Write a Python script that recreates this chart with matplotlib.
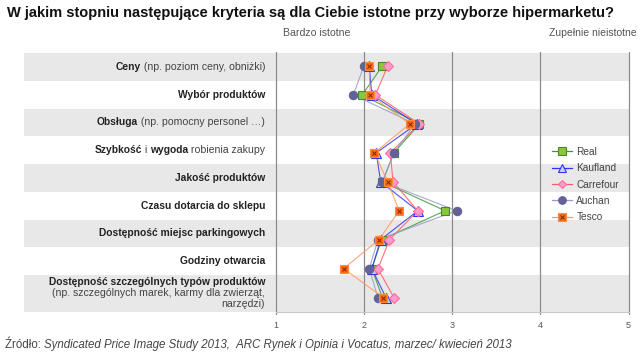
import numpy as np
import matplotlib
matplotlib.use("Agg")
import matplotlib.pyplot as plt
from matplotlib.lines import Line2D

plt.rcParams['font.family'] = ['Liberation Sans', 'DejaVu Sans']

# ---- dane ----
kryteria = [
    [("Ceny", "bold"), (" (np. poziom ceny, obniżki)", "normal")],
    [("Wybór produktów", "bold")],
    [("Obsługa", "bold"), (" (np. pomocny personel …)", "normal")],
    [("Szybkość", "bold"), (" i ", "normal"), ("wygoda", "bold"), (" robienia zakupy", "normal")],
    [("Jakość produktów", "bold")],
    [("Czasu dotarcia do sklepu", "bold")],
    [("Dostępność miejsc parkingowych", "bold")],
    [("Godziny otwarcia", "bold")],
    [("Dostępność szczególnych typów produktów", "bold")],
]
kryteria_dop = "(np. szczególnych marek, karmy dla zwierząt,\nnarzędzi)"

sieci = ["Real", "Kaufland", "Carrefour", "Auchan", "Tesco"]
real      = [2.21, 1.98, 2.63, 2.34, 2.21, 2.92, 2.20, 2.09, 2.21]
kaufland  = [2.06, 2.09, 2.60, 2.14, 2.19, 2.61, 2.19, 2.09, 2.25]
carrefour = [2.27, 2.13, 2.63, 2.30, 2.33, 2.61, 2.29, 2.16, 2.34]
auchan    = [2.00, 1.88, 2.58, 2.34, 2.21, 3.05, 2.16, 2.06, 2.16]
tesco     = [2.06, 2.07, 2.52, 2.12, 2.27, 2.40, 2.17, 1.77, 2.22]
wartosci = [real, kaufland, carrefour, auchan, tesco]
skala = [1, 2, 3, 4, 5]

# styl serii: kolor linii, marker, wypelnienie, obwodka, rozmiar
style = [
    ("#3a9a3a", "s", "#8cc63f", "#4a8a1a", 6),
    ("#3333ee", "^", "#c8d0ff", "#3333ee", 6.5),
    ("#ff5a5a", "D", "#ff9ccb", "#ff6c9c", 5),
    ("#9a9ac8", "o", "#626298", "#626298", 6),
    ("#ff9a5a", "s", "#ff6a10", "#ff8a40", 6),
]

fig = plt.figure(figsize=(6.4, 3.57), dpi=100)
W, H = 640, 357

# os: piksele 24..632 w poziomie, 52..315 w pionie
x1px, x5px = 275.7, 628.5
ppu = (x5px - x1px) / 4
xl = 1 - (x1px - 24) / ppu
xr = 5 + (632 - x5px) / ppu
y0px, dy = 66.0, 28.95
yt = (52 - y0px) / dy
yb = (315 - y0px) / dy
ax = fig.add_axes([24 / W, 1 - 315 / H, (632 - 24) / W, (315 - 52) / H])
ax.set_xlim(xl, xr)
ax.set_ylim(yb, yt)
for s in ax.spines.values():
    s.set_visible(False)
ax.set_yticks([])

# pasy tla
bh = 27.75
for k in range(0, 9, 2):
    top = (53 + bh * k - y0px) / dy
    bot = (53 + bh * (k + 1) - y0px) / dy if k < 8 else (312 - y0px) / dy
    ax.fill_between([xl, 5], top, bot, color="#e8e8e8", lw=0, zorder=0)

# siatka pionowa
for v in skala:
    ax.axvline(v, color="#8c8c8c", lw=0.9, zorder=1)
ax.plot([1, 5], [(312 - y0px) / dy] * 2, color="#c8c8c8", lw=0.8, zorder=1)

ax.set_xticks(skala)
ax.set_xticklabels([str(v) for v in skala], fontsize=6.5, color="#555555")
ax.tick_params(axis="x", length=0, pad=4)

# etykiety kryteriow
xlab = 1 - (x1px - 265) / ppu
fs = {"bold": 7.4, "normal": 7.6}
for k, czesci in enumerate(kryteria):
    yc = (53 + bh * (k + 0.5) - y0px) / dy
    if k == 8:
        yc = (282 - y0px) / dy
    prev = None
    for tekst, waga in reversed(czesci):
        kol = "#222222" if waga == "bold" else "#444444"
        if prev is None:
            prev = ax.text(xlab, yc, tekst, ha="right", va="center",
                           fontsize=fs[waga], fontweight=waga, color=kol)
        else:
            prev = ax.annotate(tekst, xy=(0, 0), xycoords=prev, ha="right",
                               va="bottom", fontsize=fs[waga], fontweight=waga, color=kol)
ax.text(xlab, (288 - y0px) / dy, kryteria_dop, ha="right", va="top",
        fontsize=7.6, color="#444444", linespacing=1.1)

# serie
yy = np.arange(len(kryteria))
uchwyty = []
for nazwa, vals, (lc, mk, fc, ec, ms) in zip(sieci, wartosci, style):
    ax.plot(vals, yy, color=lc, lw=0.8, alpha=0.85, zorder=3)
    ax.plot(vals, yy, ls="none", marker=mk, ms=ms, mfc=fc, mec=ec, mew=0.8, zorder=4)
    h = Line2D([], [], color=lc, lw=0.9, marker=mk, ms=ms - 0.5, mfc=fc, mec=ec, mew=0.8)
    if nazwa == "Tesco":
        ax.plot(vals, yy, ls="none", marker="x", ms=3.5, mec="#7a2a00", mew=0.7, zorder=5)
        h = (h, Line2D([], [], ls="none", marker="x", ms=3, mec="#7a2a00", mew=0.7))
    uchwyty.append(h)

leg = fig.legend(uchwyty, sieci, loc="upper left",
                 bbox_to_anchor=(552 / W, 1 - 147 / H), frameon=False,
                 fontsize=7.3, handlelength=2.0, handletextpad=0.4,
                 labelspacing=0.62, borderpad=0, borderaxespad=0)
for t in leg.get_texts():
    t.set_color("#444444")

# naglowki
fig.text(7 / W, 1 - 13 / H, "W jakim stopniu następujące kryteria są dla Ciebie istotne przy wyborze hipermarketu?",
         ha="left", va="center", fontsize=10.5, fontweight="bold", color="#111111")
fig.text(283 / W, 1 - 33 / H, "Bardzo istotne", ha="left", va="center", fontsize=7.6, color="#555555")
fig.text(637 / W, 1 - 33 / H, "Zupełnie nieistotne", ha="right", va="center", fontsize=7.5, color="#555555")

# zrodlo
zr = fig.text(5 / W, 1 - 345 / H, "Źródło: ", ha="left", va="center", fontsize=8.3, color="#444444")
ax.annotate("Syndicated Price Image Study 2013,  ARC Rynek i Opinia i Vocatus, marzec/ kwiecień 2013",
            xy=(1, 0), xycoords=zr, ha="left", va="bottom", fontsize=8.3,
            style="italic", color="#444444", annotation_clip=False)

fig.savefig("out.png", dpi=100)
